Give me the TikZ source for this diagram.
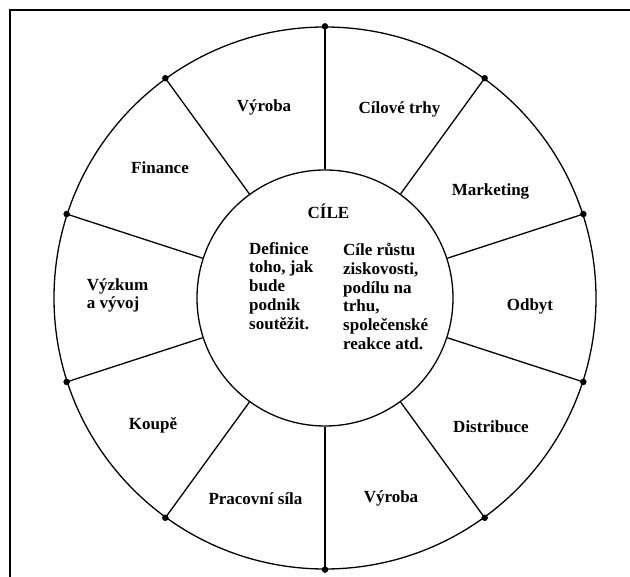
\documentclass[tikz,border=0pt]{standalone}
\usepackage{fontspec}
\setmainfont{Liberation Serif}
\begin{document}
\begin{tikzpicture}[x=1pt,y=1pt]
		\tikzstyle{ring}=[circle,draw=black,line width=1.3pt,inner sep=0pt]
		\tikzstyle{edge}=[draw,line width=1.3pt]
		\tikzstyle{dot}=[circle,fill=black,inner sep=0pt,minimum size=6.5pt]
		\tikzstyle{label}=[font=\fontsize{17}{18.8}\selectfont\bfseries,inner sep=0pt]
		\useasboundingbox (-325,-279) rectangle (305,298);
		\draw[line width=2pt] (-315,-279) |- (305,288);
		\begin{scope}
			\node [ring,minimum size=542pt] (outer) at (0,0) {};
			\node [ring,minimum size=256pt] (inner) at (0,0) {};
			\path[edge] (inner.90) edge (outer.90);
			\path[edge] (inner.54) edge (outer.54);
			\path[edge] (inner.18) edge (outer.18);
			\path[edge] (inner.-18) edge (outer.-18);
			\path[edge] (inner.-54) edge (outer.-54);
			\path[edge] (inner.-90) edge (outer.-90);
			\path[edge] (inner.-126) edge (outer.-126);
			\path[edge] (inner.-162) edge (outer.-162);
			\path[edge] (inner.162) edge (outer.162);
			\path[edge] (inner.126) edge (outer.126);
			\node [dot] (d1) at (outer.90) {};
			\node [dot] (d2) at (outer.54) {};
			\node [dot] (d3) at (outer.18) {};
			\node [dot] (d4) at (outer.-18) {};
			\node [dot] (d5) at (outer.-54) {};
			\node [dot] (d6) at (outer.-90) {};
			\node [dot] (d7) at (outer.-126) {};
			\node [dot] (d8) at (outer.-162) {};
			\node [dot] (d9) at (outer.162) {};
			\node [dot] (d10) at (outer.126) {};
		\end{scope}
		\begin{scope}
			\node [label] (vyroba1) at (-61,191) {Výroba};
			\node [label] (trhy) at (74.5,189) {Cílové trhy};
			\node [label] (finance) at (-165,130) {Finance};
			\node [label] (marketing) at (165.5,107) {Marketing};
			\node [label] (odbyt) at (205,-8) {Odbyt};
			\node [label] (distribuce) at (166,-129) {Distribuce};
			\node [label] (vyroba2) at (66,-200) {Výroba};
			\node [label] (sila) at (-69.5,-201) {Pracovní síla};
			\node [label] (koupe) at (-172,-127) {Koupě};
			\node [label,align=left] (vyzkum) at (-207.5,2.5) {Výzkum\\a vývoj};
			\node [label] (cile) at (3.5,87) {CÍLE};
			\node [label,align=left,anchor=north west] (definice) at (-76,56) {Definice\\toho, jak\\bude\\podnik\\soutěžit.};
			\node [label,align=left,anchor=north west] (rust) at (18,55) {Cíle růstu\\ziskovosti,\\podílu na\\trhu,\\společenské\\reakce atd.};
		\end{scope}
\end{tikzpicture}
\end{document}
